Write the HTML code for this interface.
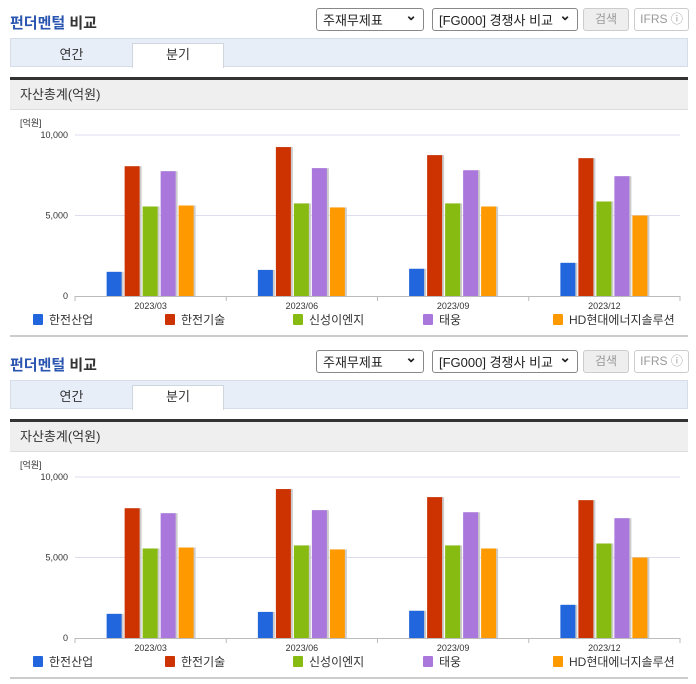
<!DOCTYPE html>
<html><head><meta charset="utf-8">
<style>
body{margin:0;width:696px;height:684px;background:#fff;font-family:"Liberation Sans","Noto Sans CJK KR",sans-serif;overflow:hidden;position:relative}
.panel{position:absolute;left:0;width:696px;height:342px}
.title{position:absolute;left:10px;top:12px;font-size:15px;font-weight:bold;color:#333}
.title span{color:#2a55b0}
.sel{position:absolute;top:8px;height:23px;border:1px solid #888;border-radius:3px;background:#fff;font-size:13px;line-height:23px;box-sizing:border-box;padding-left:6px;color:#222}
.sel:after{content:"⌄";position:absolute;right:6px;top:-5px;font-weight:bold;font-size:14px}
.btn{position:absolute;top:8px;height:23px;box-sizing:border-box;border:1px solid #ccc;border-radius:3px;font-size:12px;line-height:21px;text-align:center;color:#999}
.tabs{position:absolute;left:10px;top:38px;width:678px;height:29px;background:#e8eef8;border:1px solid #d5dde8;box-sizing:border-box}
.tab{position:absolute;top:5px;height:24px;font-size:13px;line-height:22px;text-align:center;color:#333}
.tab.on{background:#fff;border:1px solid #cfd6e0;border-bottom:none;box-sizing:border-box;top:4px;height:25px}
.dark{position:absolute;left:10px;top:77px;width:678px;height:3px;background:#333}
.hdr{position:absolute;left:10px;top:80px;width:678px;height:30px;background:#efefef;border-bottom:1px solid #ddd;font-size:13px;line-height:30px;color:#333;box-sizing:border-box;padding-left:10px}
svg{position:absolute;left:0;top:0}
.bot{position:absolute;left:10px;top:335px;width:678px;height:2px;background:#ccc}
</style></head><body>
<script>
const categories=["2023/03","2023/06","2023/09","2023/12"];
const seriesNames=["한전산업","한전기술","신성이엔지","태웅","HD현대에너지솔루션"];
const seriesColors=["#2266dd","#cc3300","#88bb11","#aa77dd","#ff9900"];
const s1=[1500,1620,1690,2060];
const s2=[8060,9250,8750,8560];
const s3=[5560,5750,5750,5870];
const s4=[7750,7940,7810,7440];
const s5=[5620,5500,5560,5000];
const yTicks=[0,5000,10000];
const yTickLabels=["0","5,000","10,000"];
const series=[s1,s2,s3,s4,s5];
const NS="http://www.w3.org/2000/svg";
const x0=75,x1=680,yZero=296,yTop=135,yMax=10000;
const yS=v=>yZero-(yZero-yTop)*v/yMax;
const gw=(x1-x0)/categories.length;
const legX=[33,165,293,423,553];
function mk(tag,attrs,parent){const e=document.createElementNS(NS,tag);for(const k in attrs)e.setAttribute(k,attrs[k]);parent.appendChild(e);return e;}
function panel(top){
 const p=document.createElement('div');p.className='panel';p.style.top=top+'px';
 
 p.innerHTML=`<div class="title"><span>펀더멘털</span> 비교</div>
<div class="sel" style="left:316px;width:108px">주재무제표</div>
<div class="sel" style="left:432px;width:146px">[FG000] 경쟁사 비교</div>
<div class="btn" style="left:583px;width:46px;background:#eee">검색</div>
<div class="btn" style="left:634px;width:55px">IFRS ⓘ</div>
<div class="tabs">
<div class="tab" style="left:0;width:121px">연간</div>
<div class="tab on" style="left:121px;width:92px">분기</div></div>
<div class="dark"></div>
<div class="hdr">자산총계(억원)</div>
<div class="bot"></div>`;
 document.body.appendChild(p);
 const svg=document.createElementNS(NS,'svg');svg.setAttribute('width',696);svg.setAttribute('height',342);
 p.appendChild(svg);
 const u=mk('text',{x:20,y:126,'font-size':9,fill:'#333'},svg);u.textContent='[억원]';
 
 yTicks.forEach((t,i)=>{
  const y=yS(t);
  if(t>0){const g=mk('line',{x1:x0,x2:x1,y1:y,y2:y,stroke:'#dde',"stroke-width":1},svg);
   }
  const tx=mk('text',{x:68,y:y+3,'font-size':9,fill:'#333','text-anchor':'end'},svg);tx.textContent=yTickLabels[i];
  
 });
 const ax=mk('line',{x1:x0,x2:x1,y1:yZero+.5,y2:yZero+.5,stroke:'#bbb'},svg);
 
 for(let i=0;i<=categories.length;i++){mk('line',{x1:x0+gw*i,x2:x0+gw*i,y1:yZero,y2:yZero+5,stroke:'#bbb'},svg);}
 categories.forEach((c,ci)=>{
  const cx=x0+gw*(ci+.5);
  const t=mk('text',{x:cx,y:309,'font-size':9,fill:'#333','text-anchor':'middle'},svg);t.textContent=c;
  
  series.forEach((s,si)=>{
   const bx=cx-44+si*18,y=yS(s[ci]);
   mk('rect',{x:bx+1,y:y,width:16,height:yZero-y,fill:'#ccc'},svg);
   const r=mk('rect',{x:bx,y:y,width:15,height:yZero-y,fill:seriesColors[si]},svg);
   
  });
 });
 seriesNames.forEach((n,i)=>{
  const r=mk('rect',{x:legX[i],y:314,width:10,height:11,rx:1,fill:seriesColors[i]},svg);
  
  const t=mk('text',{x:legX[i]+16,y:324,'font-size':12,fill:'#333'},svg);t.textContent=n;
  
 });
}
panel(0);panel(342);
</script>
</body></html>
